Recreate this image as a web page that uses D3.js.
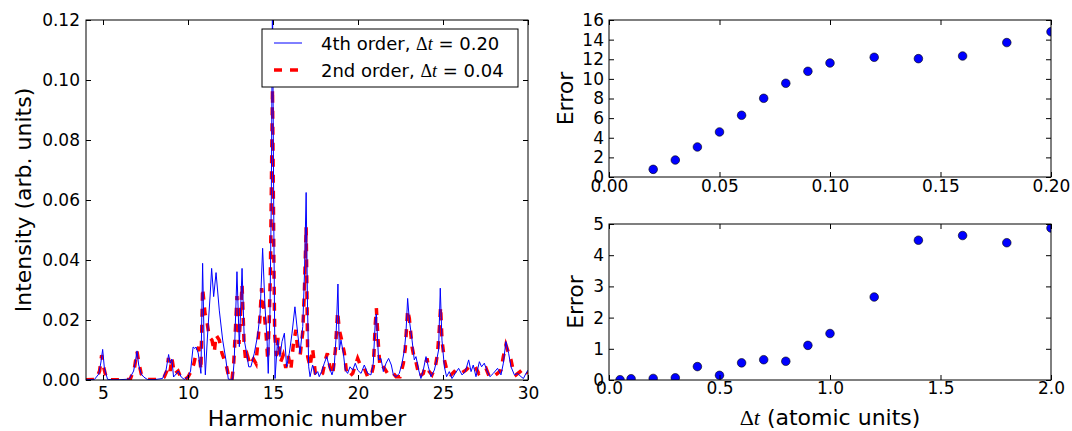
<!DOCTYPE html>
<html>
<head>
<meta charset="utf-8">
<script src="https://cdn.jsdelivr.net/npm/d3@7"></script>
<style>
  body { margin: 0; background: #fff; }
  svg { display: block; }
</style>
</head>
<body>
<svg id="fig"></svg>
<script>
const W = 1072, H = 431;

// spectrum, [harmonic number, intensity]
const order4 = [
  [4.0,0.0001],[4.5,0.0002],[4.75,0.002],[4.88,0.006],[4.98,0.0102],[5.08,0.004],[5.27,0.0002],[5.6,0.0001],
  [6.0,0.0001],[6.55,0.0003],[6.8,0.003],[6.9,0.006],[7.0,0.0097],[7.1,0.005],[7.25,0.002],[7.4,0.001],
  [7.6,0.0002],[8.0,0.0001],[8.5,0.0005],[8.7,0.003],[8.86,0.0085],[8.95,0.0055],[9.05,0.007],[9.15,0.001],
  [9.3,0.002],[9.43,0.003],[9.6,0.001],[9.78,0.0002],[10.0,0.001],[10.15,0.003],[10.3,0.011],[10.4,0.0105],
  [10.47,0.011],[10.6,0.009],[10.76,0.0022],[10.86,0.0389],[10.95,0.012],[11.02,0.0017],[11.15,0.015],
  [11.3,0.028],[11.39,0.0372],[11.51,0.0278],[11.65,0.0358],[11.84,0.0233],[12.04,0.0133],[12.23,0.0067],
  [12.37,0.0003],[12.5,0.0002],[12.63,0.0003],[12.72,0.0067],[12.88,0.0361],[13.02,0.0111],[13.18,0.0372],
  [13.31,0.0133],[13.45,0.0089],[13.57,0.0044],[13.7,0.0044],[13.9,0.0089],[14.1,0.015],[14.24,0.0222],
  [14.39,0.0439],[14.53,0.0244],[14.65,0.0133],[14.72,0.0022],[14.82,0.0222],[14.9,0.06],[14.97,0.13],
  [15.05,0.05],[15.12,0.0005],[15.27,0.0133],[15.41,0.0078],[15.53,0.0128],[15.67,0.0156],[15.8,0.0044],
  [15.96,0.0089],[16.12,0.0156],[16.29,0.0244],[16.45,0.0156],[16.59,0.0089],[16.75,0.0178],[16.85,0.035],
  [16.95,0.0625],[17.03,0.025],[17.1,0.0044],[17.18,0.0011],[17.33,0.005],[17.49,0.0017],[17.63,0.0028],
  [17.72,0.0011],[17.86,0.0028],[18.02,0.0056],[18.16,0.0078],[18.31,0.0044],[18.47,0.0017],[18.6,0.0044],
  [18.7,0.0133],[18.82,0.032],[18.9,0.01],[19.0,0.0133],[19.14,0.0089],[19.25,0.0033],[19.39,0.0022],
  [19.53,0.0044],[19.69,0.0033],[19.84,0.0056],[19.98,0.0033],[20.18,0.0022],[20.37,0.005],[20.57,0.0022],
  [20.76,0.0017],[20.9,0.0056],[21.02,0.02],[21.08,0.022],[21.21,0.0067],[21.35,0.0072],[21.49,0.0028],
  [21.65,0.0056],[21.8,0.0072],[21.96,0.005],[22.08,0.0017],[22.24,0.0011],[22.43,0.0022],[22.59,0.0056],
  [22.73,0.01],[22.82,0.0156],[22.92,0.0272],[23.02,0.02],[23.18,0.0133],[23.31,0.0067],[23.41,0.0078],
  [23.57,0.0033],[23.7,0.0005],[23.84,0.0033],[24.0,0.0078],[24.14,0.0044],[24.29,0.0011],[24.49,0.0033],
  [24.63,0.0067],[24.74,0.01],[24.84,0.0306],[24.94,0.0133],[25.08,0.0044],[25.21,0.0011],[25.37,0.0028],
  [25.53,0.0005],[25.72,0.0022],[25.92,0.0039],[26.12,0.0017],[26.31,0.0028],[26.51,0.0067],[26.65,0.0028],
  [26.78,0.005],[26.94,0.0011],[27.14,0.0061],[27.27,0.0044],[27.43,0.0056],[27.57,0.0033],[27.76,0.0011],
  [27.96,0.0022],[28.21,0.0039],[28.41,0.0017],[28.55,0.0056],[28.7,0.0128],[28.86,0.0089],[29.0,0.0044],
  [29.2,0.0017],[29.39,0.0022],[29.59,0.0011],[29.73,0.0005],[29.88,0.0022],[30.0,0.0033]
];

const order2 = [
  [4.0,0.0001],[4.6,0.0002],[4.8,0.003],[4.92,0.0083],[5.05,0.004],[5.2,0.0005],[5.35,0.0001],[6.0,0.0001],
  [6.6,0.0002],[6.85,0.004],[7.0,0.0095],[7.1,0.006],[7.25,0.002],[7.43,0.0013],[7.6,0.0002],[8.4,0.0002],
  [8.6,0.001],[8.75,0.003],[8.85,0.0073],[8.95,0.003],[9.05,0.0073],[9.2,0.002],[9.42,0.003],[9.6,0.0005],
  [9.8,0.0001],[10.0,0.001],[10.2,0.003],[10.35,0.0055],[10.47,0.0089],[10.63,0.011],[10.76,0.0033],
  [10.86,0.0306],[11.0,0.0222],[11.1,0.02],[11.25,0.0144],[11.41,0.0133],[11.55,0.0094],[11.65,0.015],
  [11.84,0.0133],[12.0,0.0089],[12.14,0.0067],[12.27,0.0044],[12.43,0.0002],[12.59,0.0002],[12.69,0.0056],
  [12.8,0.018],[12.88,0.028],[13.0,0.012],[13.18,0.0317],[13.3,0.012],[13.4,0.006],[13.5,0.008],[13.65,0.005],
  [13.85,0.007],[14.0,0.0055],[14.1,0.012],[14.22,0.02],[14.33,0.0306],[14.49,0.022],[14.59,0.0156],
  [14.69,0.0067],[14.78,0.02],[14.85,0.037],[14.97,0.097],[15.05,0.04],[15.1,0.015],[15.2,0.008],[15.3,0.014],
  [15.45,0.006],[15.6,0.0083],[15.75,0.004],[15.9,0.008],[16.05,0.0035],[16.2,0.012],[16.35,0.0167],
  [16.45,0.01],[16.6,0.0084],[16.75,0.016],[16.85,0.03],[16.95,0.051],[17.04,0.0078],[17.18,0.0044],
  [17.33,0.0105],[17.49,0.0022],[17.7,0.0011],[17.92,0.0022],[18.08,0.0067],[18.2,0.0089],[18.35,0.0044],
  [18.51,0.0017],[18.67,0.01],[18.8,0.0228],[18.9,0.0167],[19.04,0.0133],[19.2,0.0089],[19.33,0.0022],
  [19.49,0.0011],[19.69,0.0022],[19.98,0.0072],[20.18,0.0044],[20.37,0.0039],[20.57,0.0011],[20.76,0.0011],
  [20.9,0.0044],[21.02,0.0189],[21.08,0.024],[21.18,0.0133],[21.29,0.0044],[21.41,0.005],[21.55,0.0039],
  [21.74,0.0022],[22.0,0.0028],[22.24,0.0011],[22.47,0.0011],[22.67,0.0056],[22.78,0.0105],[22.92,0.0233],
  [23.02,0.0205],[23.18,0.0111],[23.31,0.0072],[23.41,0.0061],[23.6,0.0011],[23.84,0.0022],[24.06,0.0072],
  [24.19,0.0028],[24.35,0.0017],[24.55,0.0044],[24.68,0.0089],[24.78,0.0167],[24.86,0.0244],[24.94,0.0133],
  [25.08,0.0067],[25.27,0.0022],[25.47,0.0017],[25.66,0.0028],[25.86,0.0017],[26.06,0.0022],[26.35,0.0033],
  [26.55,0.0044],[26.74,0.0039],[26.9,0.0044],[27.1,0.0022],[27.33,0.0033],[27.53,0.0039],[27.72,0.0011],
  [27.96,0.0011],[28.21,0.0022],[28.41,0.0033],[28.55,0.0078],[28.7,0.0117],[28.86,0.0089],[29.0,0.0067],
  [29.14,0.0028],[29.29,0.0017],[29.53,0.0028],[29.69,0.0017],[29.88,0.0028],[30.0,0.0022]
];

// error vs time step
const dtSmall  = [0.02, 0.03, 0.04, 0.05, 0.06, 0.07, 0.08, 0.09, 0.10, 0.12, 0.14, 0.16, 0.18, 0.20];
const errSmall = [0.78, 1.73, 3.06, 4.59, 6.29, 8.02, 9.55, 10.77, 11.62, 12.2, 12.06, 12.33, 13.7, 14.8];
const dtLarge  = [0.05, 0.1, 0.2, 0.3, 0.4, 0.5, 0.6, 0.7, 0.8, 0.9, 1.0, 1.2, 1.4, 1.6, 1.8, 2.0];
const errLarge = [0.01, 0.04, 0.05, 0.07, 0.43, 0.15, 0.55, 0.65, 0.6, 1.11, 1.49, 2.66, 4.48, 4.63, 4.4, 4.87];

const harmonicTicks  = [5, 10, 15, 20, 25, 30];
const intensityTicks = [0, 0.02, 0.04, 0.06, 0.08, 0.10, 0.12];
const dtSmallTicks   = [0, 0.05, 0.10, 0.15, 0.20];
const errSmallTicks  = [0, 2, 4, 6, 8, 10, 12, 14, 16];
const dtLargeTicks   = [0, 0.5, 1.0, 1.5, 2.0];
const errLargeTicks  = [0, 1, 2, 3, 4, 5];

const legendLabels = [['4th order, ', ' = 0.20'], ['2nd order, ', ' = 0.04']];

const FONT = "DejaVu Sans";
const svg = d3.select('#fig').attr('width', W).attr('height', H);

// frame + inward ticks on all four sides, matplotlib classic look
function frame(g, x, y, o) {
  const [x0, x1] = x.range(), [y0, y1] = y.range();
  const bottom = g.append('g').attr('transform', `translate(0,${y0})`)
    .call(d3.axisBottom(x).tickValues(o.xt).tickFormat(o.xf).tickSize(-5).tickSizeOuter(0).tickPadding(o.xpad));
  g.append('g').attr('transform', `translate(0,${y1})`)
    .call(d3.axisTop(x).tickValues(o.xt).tickFormat('').tickSize(-5).tickSizeOuter(0));
  const left = g.append('g').attr('transform', `translate(${x0},0)`)
    .call(d3.axisLeft(y).tickValues(o.yt).tickFormat(o.yf).tickSize(-5).tickSizeOuter(0).tickPadding(o.ypad));
  g.append('g').attr('transform', `translate(${x1},0)`)
    .call(d3.axisRight(y).tickValues(o.yt).tickFormat('').tickSize(-5).tickSizeOuter(0));
  g.selectAll('.domain').remove();
  g.selectAll('.tick line').attr('stroke', '#000').attr('stroke-width', 1);
  g.selectAll('.tick text').attr('font-family', FONT).attr('font-size', 17).attr('fill', '#000');
  g.append('rect').attr('x', x0).attr('y', y1).attr('width', x1 - x0).attr('height', y0 - y1)
    .attr('fill', 'none').attr('stroke', '#000').attr('stroke-width', 1);
}

function clip(id, x, y) {
  const [x0, x1] = x.range(), [y0, y1] = y.range();
  svg.append('clipPath').attr('id', id).append('rect')
    .attr('x', x0).attr('y', y1).attr('width', x1 - x0).attr('height', y0 - y1);
  return `url(#${id})`;
}

function deltaT(sel) {
  sel.append('tspan').attr('font-family', 'Liberation Serif').text('Δ');
  sel.append('tspan').attr('font-family', 'Liberation Serif').attr('font-style', 'italic').text('t');
}

// ---- left: spectrum ----
const xH = d3.scaleLinear().domain([4, 30]).range([86, 528]);
const yI = d3.scaleLinear().domain([0, 0.12]).range([380, 20]);
const gL = svg.append('g');
const clipL = clip('clipL', xH, yI);

const line = d3.line().x(d => xH(d[0])).y(d => yI(d[1]));
gL.append('path').datum(order2).attr('clip-path', clipL)
  .attr('d', line).attr('fill', 'none').attr('stroke', '#ff0000')
  .attr('stroke-width', 3.5).attr('stroke-dasharray', '8,8');
gL.append('path').datum(order4).attr('clip-path', clipL)
  .attr('d', line).attr('fill', 'none').attr('stroke', '#0000ff').attr('stroke-width', 1);

frame(gL, xH, yI, {xt: harmonicTicks, xf: d3.format('d'), xpad: 7,
                   yt: intensityTicks, yf: d3.format('.2f'), ypad: 6});

gL.append('text').attr('x', 307).attr('y', 426).attr('text-anchor', 'middle')
  .attr('font-family', FONT).attr('font-size', 22).text('Harmonic number');
gL.append('text').attr('transform', 'translate(31,200) rotate(-90)').attr('text-anchor', 'middle')
  .attr('font-family', FONT).attr('font-size', 22).text('Intensity (arb. units)');

// legend
const lg = gL.append('g');
lg.append('rect').attr('x', 262).attr('y', 29).attr('width', 256).attr('height', 58)
  .attr('fill', '#fff').attr('stroke', '#000').attr('stroke-width', 1);
const legendStyles = [{c: '#0000ff', w: 1, d: null}, {c: '#ff0000', w: 3.5, d: '8,8'}];
legendLabels.forEach((lab, i) => {
  const cy = 43 + i * 27;
  lg.append('line').attr('x1', 274).attr('x2', 302).attr('y1', cy).attr('y2', cy)
    .attr('stroke', legendStyles[i].c).attr('stroke-width', legendStyles[i].w)
    .attr('stroke-dasharray', legendStyles[i].d);
  const t = lg.append('text').attr('x', 321).attr('y', cy + 7)
    .attr('font-family', FONT).attr('font-size', 18);
  t.append('tspan').text(lab[0]);
  deltaT(t);
  t.append('tspan').text(lab[1]);
});

// ---- right top ----
const xS = d3.scaleLinear().domain([0, 0.2]).range([609, 1051]);
const yS = d3.scaleLinear().domain([0, 16]).range([177, 20]);
const gT = svg.append('g');
gT.append('g').attr('clip-path', clip('clipT', xS, yS))
  .selectAll('circle').data(dtSmall).join('circle')
  .attr('cx', d => xS(d)).attr('cy', (d, i) => yS(errSmall[i])).attr('r', 4.3)
  .attr('fill', '#0000ff').attr('stroke', '#000').attr('stroke-width', 0.6);
frame(gT, xS, yS, {xt: dtSmallTicks, xf: d3.format('.2f'), xpad: 2.5,
                   yt: errSmallTicks, yf: d3.format('d'), ypad: 5});
gT.append('text').attr('transform', 'translate(573,98.5) rotate(-90)').attr('text-anchor', 'middle')
  .attr('font-family', FONT).attr('font-size', 22).text('Error');

// ---- right bottom ----
const xB = d3.scaleLinear().domain([0, 2]).range([609, 1051]);
const yB = d3.scaleLinear().domain([0, 5]).range([380, 224]);
const gB = svg.append('g');
gB.append('g').attr('clip-path', clip('clipB', xB, yB))
  .selectAll('circle').data(dtLarge).join('circle')
  .attr('cx', d => xB(d)).attr('cy', (d, i) => yB(errLarge[i])).attr('r', 4.3)
  .attr('fill', '#0000ff').attr('stroke', '#000').attr('stroke-width', 0.6);
frame(gB, xB, yB, {xt: dtLargeTicks, xf: d3.format('.1f'), xpad: 2,
                   yt: errLargeTicks, yf: d3.format('d'), ypad: 5});
gB.append('text').attr('transform', 'translate(583,302) rotate(-90)').attr('text-anchor', 'middle')
  .attr('font-family', FONT).attr('font-size', 22).text('Error');
const xl = gB.append('text').attr('x', 830).attr('y', 425).attr('text-anchor', 'middle')
  .attr('font-family', FONT).attr('font-size', 22);
deltaT(xl);
xl.append('tspan').text(' (atomic units)');
</script>
</body>
</html>
